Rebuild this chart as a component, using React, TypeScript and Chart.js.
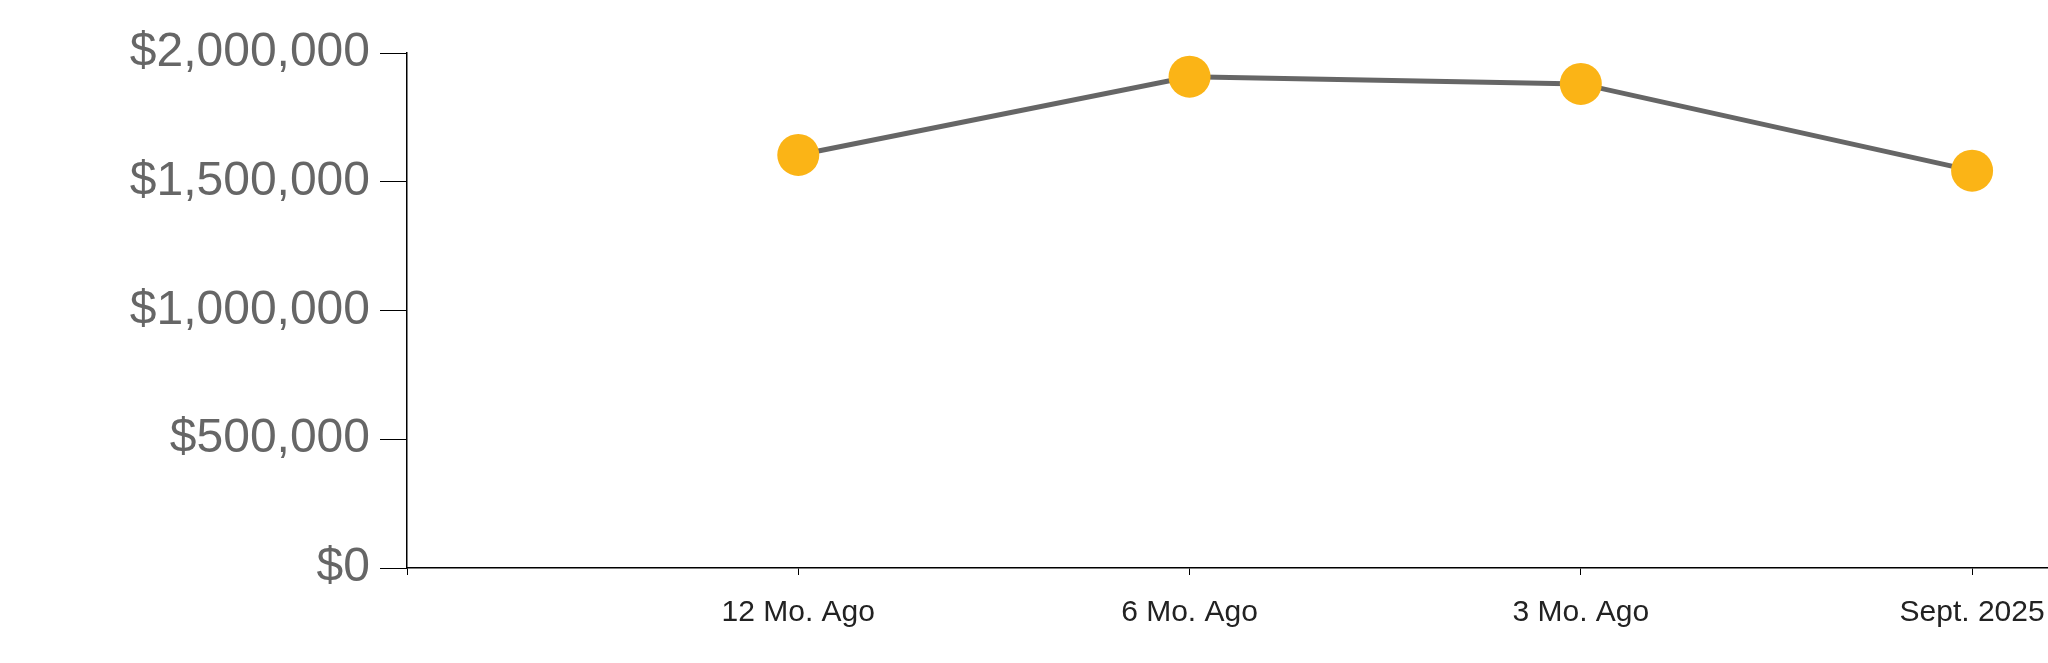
import React, { useEffect, useRef } from "react";
import { Chart, registerables } from "chart.js";

Chart.register(...registerables);

const categories = ["12 Mo. Ago", "6 Mo. Ago", "3 Mo. Ago", "Sept. 2025"];
const values = [1604000, 1908000, 1880000, 1543000];
const xTickLabels = ["", ...categories];
const yTicks = [0, 500000, 1000000, 1500000, 2000000];

export default function App() {
  const ref = useRef<HTMLCanvasElement | null>(null);

  useEffect(() => {
    document.body.style.margin = "0";
    const canvas = ref.current;
    if (!canvas) return;
    const chart = new Chart(canvas, {
      type: "line",
      data: {
        datasets: [
          {
            data: values.map((v, i) => ({ x: i + 1, y: v })),
            borderColor: "#666666",
            borderWidth: 5,
            pointRadius: 21,
            pointHoverRadius: 21,
            pointBackgroundColor: "#FBB416",
            pointBorderWidth: 0,
            tension: 0,
            fill: false,
            clip: false as any,
          },
        ],
      },
      options: {
        responsive: false,
        animation: false,
        layout: { autoPadding: false, padding: { top: 53, left: 0, right: 0, bottom: 0 } },
        plugins: { legend: { display: false }, tooltip: { enabled: false } },
        scales: {
          x: {
            type: "linear",
            min: 0,
            max: 4.194,
            afterBuildTicks: (scale: any) => {
              scale.ticks = xTickLabels.map((_, i) => ({ value: i }));
            },
            afterFit: (scale: any) => {
              scale.height = 95;
              scale.paddingLeft = 0;
              scale.paddingRight = 0;
            },
            grid: {
              display: true,
              drawOnChartArea: false,
              drawTicks: true,
              tickLength: 7,
              color: "#000000",
              lineWidth: 1,
            },
            border: { display: true, color: "#000000", width: 1.5 },
            ticks: {
              autoSkip: false,
              maxRotation: 0,
              padding: 20,
              color: "#222222",
              font: { family: "'Liberation Sans', Arial, sans-serif", size: 30 },
              callback: (v: any) => xTickLabels[Math.round(Number(v))] ?? "",
            },
          },
          y: {
            type: "linear",
            min: 0,
            max: 2000000,
            afterBuildTicks: (scale: any) => {
              scale.ticks = yTicks.map((v) => ({ value: v }));
            },
            afterFit: (scale: any) => {
              scale.width = 407;
            },
            grid: {
              display: true,
              drawOnChartArea: false,
              drawTicks: true,
              tickLength: 27,
              color: "#000000",
              lineWidth: 1,
            },
            border: { display: true, color: "#000000", width: 1.5 },
            ticks: {
              padding: 10,
              color: "#666666",
              font: { family: "'Liberation Sans', Arial, sans-serif", size: 48 },
              callback: (v: any) => "$" + Number(v).toLocaleString("en-US"),
            },
          },
        },
      },
    });
    return () => chart.destroy();
  }, []);

  return (
    <div style={{ position: "absolute", left: 0, top: 0, width: 2048, height: 663 }}>
      <canvas ref={ref} width={2048} height={663} style={{ display: "block" }} />
    </div>
  );
}
